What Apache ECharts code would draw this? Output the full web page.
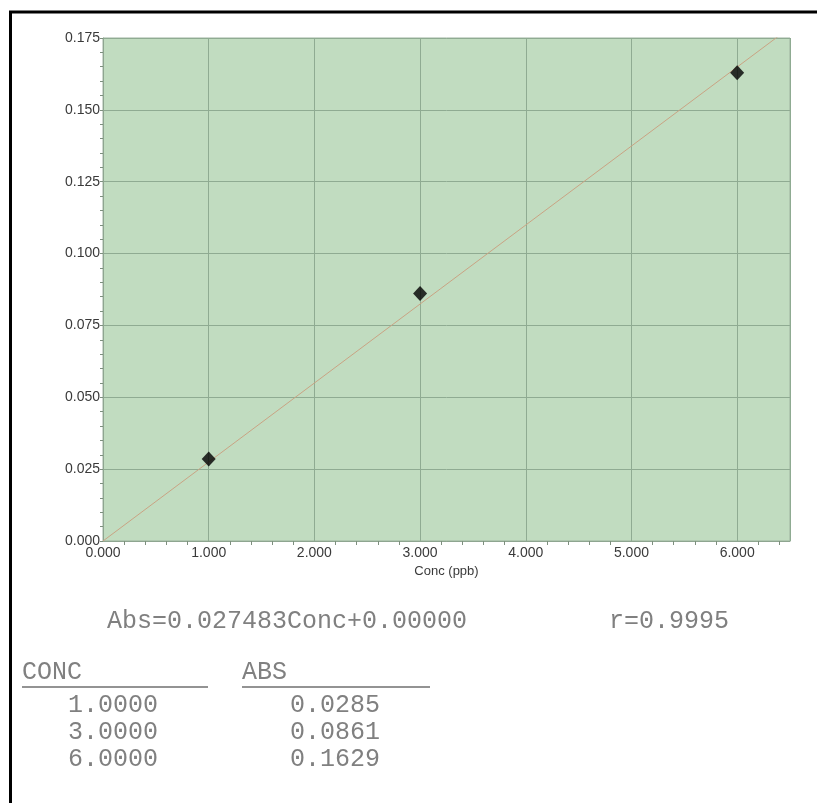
<!DOCTYPE html>
<html>
<head>
<meta charset="utf-8">
<script src="https://cdn.jsdelivr.net/npm/echarts@6/dist/echarts.min.js"></script>
<style>
  html, body { margin: 0; padding: 0; background: #ffffff; }
  #chart { width: 817px; height: 803px; }
</style>
</head>
<body>
<div id="chart"></div>
<script>
// Calibration standards
const concValues = [1.0, 3.0, 6.0];
const absValues = [0.0285, 0.0861, 0.1629];

// Linear fit through the origin
const fitSlope = 0.027483;
const fitIntercept = 0.0;
const fitR = 0.9995;

// Axis ranges
const xRange = [0, 6.5];
const yRange = [0, 0.175];
const xStep = 1;
const yStep = 0.025;
const xAxisTitle = 'Conc (ppb)';

const standardPoints = concValues.map((c, i) => [c, absValues[i]]);
const fitLine = xRange.map(x => [x, fitSlope * x + fitIntercept]);

const monoFont = '"Courier New", "Liberation Mono", monospace';
const textGray = '#808080';
const tableFontSize = 25;
const labelFont = 'Liberation Sans, Arial, sans-serif';

const equationText = 'Abs=' + fitSlope.toFixed(6) + 'Conc+' + fitIntercept.toFixed(5);
const rText = 'r=' + fitR.toFixed(4);

function textItem(str, x, y) {
  return {
    type: 'text', left: x, top: y - tableFontSize / 2 - 1,
    style: { text: str, font: tableFontSize + 'px ' + monoFont, fill: textGray }
  };
}

const graphics = [
  // frame edges
  { type: 'line', shape: { x1: 10.5, y1: 11, x2: 10.5, y2: 803 }, style: { stroke: '#000', lineWidth: 3 } },
  { type: 'line', shape: { x1: 9, y1: 12, x2: 817, y2: 12 }, style: { stroke: '#000', lineWidth: 3 } },
  textItem(equationText, 107, 622),
  textItem(rText, 609, 622),
  textItem('CONC', 22, 673),
  textItem('ABS', 242, 673),
  { type: 'line', shape: { x1: 22, y1: 687, x2: 208, y2: 687 }, style: { stroke: '#6f6f6f', lineWidth: 1.5 } },
  { type: 'line', shape: { x1: 242, y1: 687, x2: 430, y2: 687 }, style: { stroke: '#6f6f6f', lineWidth: 1.5 } }
];
const rowY = [706, 733, 760];
concValues.forEach((c, i) => {
  graphics.push(textItem(c.toFixed(4), 68, rowY[i]));
  graphics.push(textItem(absValues[i].toFixed(4), 290, rowY[i]));
});

const chart = echarts.init(document.getElementById('chart'), null, { renderer: 'canvas' });
chart.setOption({
  animation: false,
  backgroundColor: '#ffffff',
  grid: {
    left: 103, top: 38, right: 27, bottom: 262,
    show: true,
    backgroundColor: '#c1dcc0',
    borderColor: '#9db39e',
    borderWidth: 1
  },
  xAxis: {
    type: 'value',
    min: xRange[0], max: xRange[1], interval: xStep,
    name: xAxisTitle,
    nameLocation: 'middle',
    nameGap: 24,
    nameTextStyle: { fontFamily: labelFont, fontSize: 13, color: '#3a3a3a' },
    axisLine: { show: true, lineStyle: { color: '#8ea590', width: 1 } },
    axisTick: { show: false },
    minorTick: { show: true, splitNumber: 5, length: 4, lineStyle: { color: '#7d8f7e', width: 1 } },
    axisLabel: {
      margin: 5,
      fontFamily: labelFont, fontSize: 14, color: '#3a3a3a',
      formatter: v => (v % xStep === 0 ? v.toFixed(3) : '')
    },
    splitLine: { show: true, lineStyle: { color: '#8fab92', width: 1 } }
  },
  yAxis: {
    type: 'value',
    min: yRange[0], max: yRange[1], interval: yStep,
    axisLine: { show: true, lineStyle: { color: '#8ea590', width: 1 } },
    axisTick: { show: true, length: 3, lineStyle: { color: '#7d8f7e' } },
    minorTick: { show: true, splitNumber: 5, length: 3, lineStyle: { color: '#7d8f7e', width: 1 } },
    axisLabel: {
      margin: 3,
      fontFamily: labelFont, fontSize: 14, color: '#3a3a3a',
      formatter: v => v.toFixed(3)
    },
    splitLine: { show: true, lineStyle: { color: '#8fab92', width: 1 } }
  },
  series: [
    {
      type: 'line',
      data: fitLine,
      symbol: 'none',
      clip: true,
      lineStyle: { color: '#c9a383', width: 1 },
      z: 2
    },
    {
      type: 'scatter',
      data: standardPoints,
      symbol: 'diamond',
      symbolSize: [14, 15],
      itemStyle: { color: '#000000' },
      z: 3
    }
  ],
  graphic: graphics
});
</script>
</body>
</html>
